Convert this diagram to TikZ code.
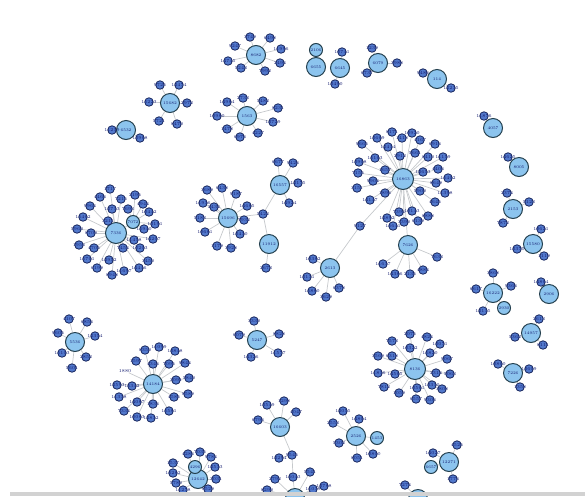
\documentclass[tikz,border=0pt]{standalone}
\pgfdeclarelayer{bg}
\pgfsetlayers{bg,main}
\definecolor{hubfill}{HTML}{8CC4EE}
\definecolor{hubline}{HTML}{24404F}
\definecolor{leaffill}{HTML}{5279CC}
\definecolor{leafline}{HTML}{18265C}
\definecolor{labcol}{HTML}{141C70}
\definecolor{linkcol}{HTML}{C6C9CC}
\definecolor{barcol}{HTML}{D2D2D2}
\newcount\leafno
\newcommand\nextlab{\global\advance\leafno by 1
  \xdef\curlab{\the\numexpr 1000+\leafno*2749-15000*((\leafno*2749-7500)/15000)\relax}}
\newcommand\hubleaves[2]{%
  \foreach \p/\q [count=\k] in {#2} {%
    \nextlab
    \node[leaf,label={[lbl]center:\curlab}] (#1-\k) at (\p,\q) {};
    \begin{pgfonlayer}{bg}\draw[link] (#1) -- (#1-\k);\end{pgfonlayer}
  }%
}
\tikzset{
  hub/.style={circle,draw=hubline,line width=1pt,fill=hubfill,minimum size=19pt,inner sep=0pt,font=\fontsize{4}{4.5}\selectfont,text=labcol},
  bighub/.style={hub,minimum size=21pt},
  midhub/.style={hub,minimum size=13pt},
  leaf/.style={circle,draw=leafline,line width=0.8pt,fill=leaffill,minimum size=8.5pt,inner sep=0pt},
  lbl/.style={inner sep=0pt,font=\fontsize{4.5}{5}\selectfont,text=labcol},
  bare/.style={inner sep=0pt,font=\fontsize{4.5}{5}\selectfont,text=labcol},
  link/.style={draw=linkcol,line width=0.7pt}
}
\begin{document}
\begin{tikzpicture}[x=1pt,y=-1pt]
\useasboundingbox (0,0) rectangle (585,496);
\clip (0,0) rectangle (585,496);

% ---- top row ----
\node[hub] (h8682) at (256,55) {8682};
\hubleaves{h8682}{250/37,270/38,235/46,281/49,228/61,280/63,241/68,265/71}

\node[hub] (h6655) at (316,67) {6655};
\node[midhub] (h2106) at (316,50) {2106};
\begin{pgfonlayer}{bg}\draw[link] (h6655) -- (h2106);\end{pgfonlayer}

\node[hub] (h6645) at (340,68) {6645};
\hubleaves{h6645}{342/52,335/84}

\node[hub] (h6079) at (378,63) {6079};
\hubleaves{h6079}{372/48,397/63,367/73}

\node[hub] (h114) at (437,79) {114};
\hubleaves{h114}{423/73,451/88}

\node[hub] (h1563) at (247,116) {1563};
\hubleaves{h1563}{227/102,243/98,263/101,278/108,217/116,273/122,227/129,258/133,240/137}

\node[hub] (h15682) at (170,103) {15682};
\hubleaves{h15682}{160/85,179/85,149/102,187/103,159/121,177/124}

\node[hub] (h6532) at (126,130) {6532};
\hubleaves{h6532}{112/130,140/138}

% ---- left big star ----
\node[bighub] (h7336) at (116,233) {7336};
\node[midhub] (h7072) at (133,222) {7072};
\begin{pgfonlayer}{bg}\draw[link] (h7336) -- (h7072);\end{pgfonlayer}
\hubleaves{h7336}{110/189,100/197,121/199,90/206,112/209,83/217,108/221,77/229,91/233,134/240,153/239,79/245,94/248,123/248,140/248,109/260,87/259,148/261,97/268,112/275,124/271,139/268}
\hubleaves{h7072}{135/195,143/204,128/209,149/212,155/224,144/229}

% ---- middle group ----
\node[hub] (h15696) at (228,218) {15696};
\hubleaves{h15696}{207/190,222/188,236/194,203/203,247/206,214/207,200/218,244/220,205/232,240/234,217/246,231/248}
\node[hub] (h16557) at (280,185) {16557};
\hubleaves{h16557}{278/162,293/163,298/183,289/203}
\node[hub] (h11912) at (269,244) {11912};
\hubleaves{h11912}{266/268}
\nextlab
\node[leaf,label={[lbl]center:\curlab}] (c2) at (263,214) {};
\begin{pgfonlayer}{bg}
\draw[link] (h15696) -- (c2) -- (h16557);
\draw[link] (c2) -- (h11912);
\end{pgfonlayer}

% ---- big right star ----
\node[bighub] (h16863) at (403,179) {16863};
\hubleaves{h16863}{392/132,412/133,377/138,402/138,420/140,435/144,362/144,388/147,375/158,400/156,415/153,428/157,443/157,359/162,385/170,438/169,358/173,373/181,423/172,448/178,357/188,420/191,436/183,445/193,370/200,385/193,435/202,399/212,412/211,387/218,393/226,404/222,418/221,428/216}
\node[hub] (h7626) at (408,245) {7626};
\begin{pgfonlayer}{bg}\draw[link] (h16863) -- (h7626);\end{pgfonlayer}
\hubleaves{h7626}{383/264,395/274,410/274,423/270,437/257}

\node[hub] (h2613) at (330,268) {2613};
\hubleaves{h2613}{313/259,307/277,312/291,326/297,339/288}
\nextlab
\node[leaf,label={[lbl]center:\curlab}] (c1) at (360,226) {};
\begin{pgfonlayer}{bg}\draw[link] (h2613) -- (c1) -- (h16863);\end{pgfonlayer}

% ---- right column ----
\node[hub] (h4057) at (493,128) {4057};
\hubleaves{h4057}{484/116}
\node[hub] (h8005) at (519,167) {8005};
\hubleaves{h8005}{508/157}
\node[hub] (h2153) at (513,209) {2153};
\hubleaves{h2153}{507/193,529/202,503/223}
\node[hub] (h15580) at (533,244) {15580};
\hubleaves{h15580}{541/229,517/249,544/256}
\node[hub] (h16222) at (493,293) {16222};
\hubleaves{h16222}{493/273,476/289,511/286,483/311}
\node[midhub] (h2930) at (504,308) {2930};
\begin{pgfonlayer}{bg}\draw[link] (h16222) -- (h2930);\end{pgfonlayer}
\node[hub] (h2906) at (549,294) {2906};
\hubleaves{h2906}{541/282}
\node[hub] (h14957) at (531,333) {14957};
\hubleaves{h14957}{539/319,515/337,543/345}
\node[hub] (h7226) at (513,373) {7226};
\hubleaves{h7226}{498/364,529/369,520/387}

% ---- lower left ----
\node[hub] (h5536) at (75,342) {5536};
\hubleaves{h5536}{69/319,87/322,58/333,95/336,62/353,86/357,72/368}

\node[hub] (h14184) at (153,384) {14184};
\hubleaves{h14184}{145/350,159/347,175/351,136/361,153/364,169/364,185/363,117/385,132/386,176/380,189/378,188/394,119/397,137/402,153/404,174/397,124/411,137/417,151/418,169/411}
\node[bare] (t1880) at (125,371) {1880};
\begin{pgfonlayer}{bg}\draw[link] (h14184) -- (t1880);\end{pgfonlayer}

\node[hub] (h5247) at (257,340) {5247};
\hubleaves{h5247}{254/321,239/335,279/334,278/353,251/357}

\node[bighub] (h8136) at (415,369) {8136};
\hubleaves{h8136}{410/334,427/337,392/341,410/348,440/344,430/353,378/356,392/356,447/359,378/373,395/374,436/373,450/374,384/387,417/388,432/385,399/393,442/389,416/399,430/400}

% ---- bottom ----
\node[hub] (h2526) at (356,436) {2526};
\hubleaves{h2526}{343/411,359/419,333/423,339/443,357/458,373/454}
\node[midhub] (h1453) at (377,438) {1453};
\begin{pgfonlayer}{bg}\draw[link] (h2526) -- (h1453);\end{pgfonlayer}

\node[hub] (h16603) at (280,427) {16603};
\hubleaves{h16603}{267/405,284/401,296/412,258/420}
\nextlab
\node[leaf,label={[lbl]center:\curlab}] (c3) at (292,455) {};
\hubleaves{c3}{279/458}
\nextlab
\node[leaf,label={[lbl]center:\curlab}] (c4) at (293,477) {};
\node[hub] (hB1) at (295,498) {};
\begin{pgfonlayer}{bg}\draw[link] (h16603) -- (c3) -- (c4) -- (hB1);\end{pgfonlayer}
\hubleaves{hB1}{275/479,310/472,267/490,313/489,324/486}

\node[hub] (h12642) at (198,479) {12642};
\node[midhub] (h4296) at (195,467) {4296};
\begin{pgfonlayer}{bg}\draw[link] (h12642) -- (h4296);\end{pgfonlayer}
\hubleaves{h12642}{173/463,188/454,200/452,211/457,215/467,173/473,216/479,176/483,208/489,183/490}

\node[hub] (h12271) at (449,462) {12271};
\node[midhub] (h6657) at (431,467) {6657};
\begin{pgfonlayer}{bg}\draw[link] (h12271) -- (h6657);\end{pgfonlayer}
\hubleaves{h12271}{433/453,453/479,457/445}

\node[hub] (hB2) at (418,499) {};
\hubleaves{hB2}{405/485}

% bottom bar
\fill[barcol] (10,492) rectangle (585,496);
\end{tikzpicture}
\end{document}
